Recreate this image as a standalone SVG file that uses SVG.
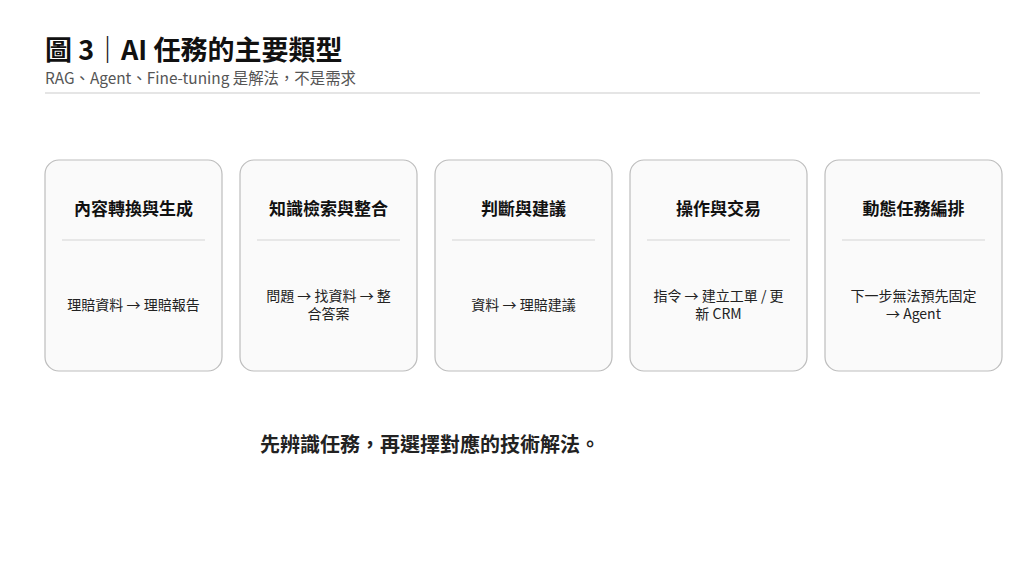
<svg xmlns="http://www.w3.org/2000/svg" width="1024" height="576" viewBox="0 0 1024 576">
<style>
text{font-family:"Noto Sans CJK TC","Noto Sans",sans-serif;}
.title{font-size:27px;font-weight:700;fill:#111;}
.sub{font-size:15.4px;fill:#555;}
.card{fill:#fafafa;stroke:#bdbdbd;stroke-width:1.2;}
.div{stroke:#d4d4d4;stroke-width:1.2;}
.ct{font-size:17px;font-weight:700;fill:#111;text-anchor:middle;}
.cb{font-size:14px;fill:#222;text-anchor:middle;}
.foot{font-size:20px;font-weight:700;fill:#222;}
</style>
<rect width="1024" height="576" fill="#ffffff"/>
<g id="header">
<text class="title" x="45" y="60">圖 3｜AI 任務的主要類型</text>
<text class="sub" x="45" y="84">RAG、Agent、Fine-tuning 是解法，不是需求</text>
<line x1="45" y1="93" x2="980" y2="93" stroke="#cccccc" stroke-width="1.2"/>
</g>
<g id="connectors"></g>
<g id="node1">
<rect class="card" x="45" y="160" width="177" height="211" rx="14"/>
<text class="ct" x="133.5" y="215">內容轉換與生成</text>
<line class="div" x1="62" y1="240" x2="205" y2="240"/>
<text class="cb" x="133.5" y="310">理賠資料 → 理賠報告</text>
</g>
<g id="node2">
<rect class="card" x="240" y="160" width="177" height="211" rx="14"/>
<text class="ct" x="328.5" y="215">知識檢索與整合</text>
<line class="div" x1="257" y1="240" x2="400" y2="240"/>
<text class="cb" x="328.5" y="301">問題 → 找資料 → 整</text>
<text class="cb" x="328.5" y="319">合答案</text>
</g>
<g id="node3">
<rect class="card" x="435" y="160" width="177" height="211" rx="14"/>
<text class="ct" x="523.5" y="215">判斷與建議</text>
<line class="div" x1="452" y1="240" x2="595" y2="240"/>
<text class="cb" x="523.5" y="310">資料 → 理賠建議</text>
</g>
<g id="node4">
<rect class="card" x="630" y="160" width="177" height="211" rx="14"/>
<text class="ct" x="718.5" y="215">操作與交易</text>
<line class="div" x1="647" y1="240" x2="790" y2="240"/>
<text class="cb" x="718.5" y="301">指令 → 建立工單 / 更</text>
<text class="cb" x="718.5" y="319">新 CRM</text>
</g>
<g id="node5">
<rect class="card" x="825" y="160" width="177" height="211" rx="14"/>
<text class="ct" x="913.5" y="215">動態任務編排</text>
<line class="div" x1="842" y1="240" x2="985" y2="240"/>
<text class="cb" x="913.5" y="301">下一步無法預先固定</text>
<text class="cb" x="913.5" y="319">→ Agent</text>
</g>
<g id="footer">
<text class="foot" x="260" y="452">先辨識任務，再選擇對應的技術解法。</text>
</g>
</svg>
